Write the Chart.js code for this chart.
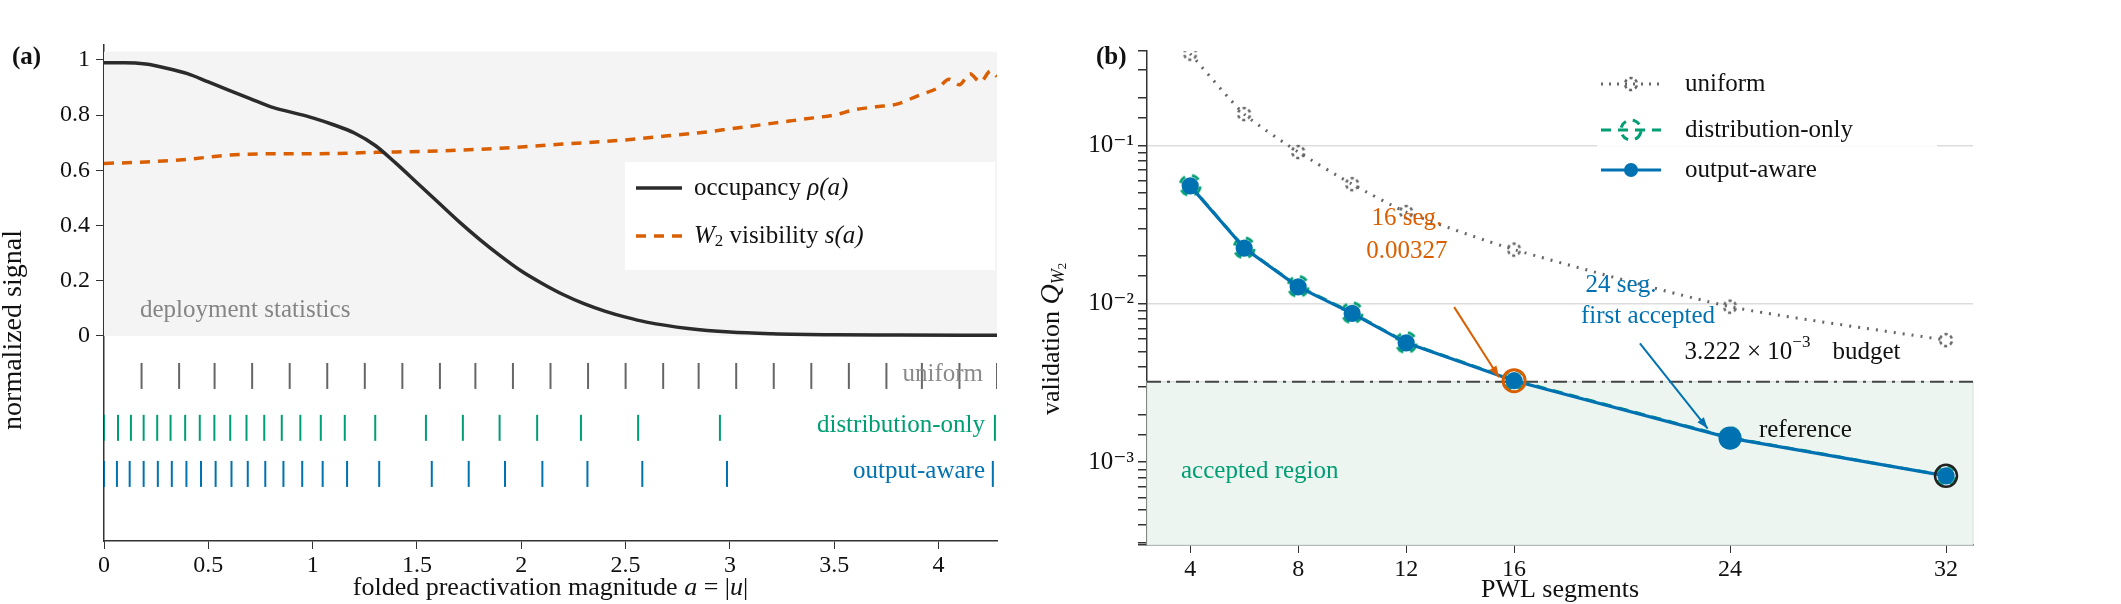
<!DOCTYPE html>
<html>
<head>
<meta charset="utf-8">
<script src="https://cdn.jsdelivr.net/npm/chart.js@4.4.1/dist/chart.umd.min.js"></script>
<style>
  body { margin: 0; background: #fff; }
  #wrap-a { position: absolute; left: 0; top: 0; width: 1060px; height: 604px; }
  #wrap-b { position: absolute; left: 1000px; top: 0; width: 1121px; height: 604px; }
</style>
</head>
<body>
<div id="wrap-a"><canvas id="chart-a"></canvas></div>
<div id="wrap-b"><canvas id="chart-b"></canvas></div>
<script>
// panel (a): deployment statistics
var occX = [0, 0.1, 0.2, 0.3, 0.4, 0.5, 0.6, 0.7, 0.8, 0.9, 1.0, 1.1, 1.2, 1.3, 1.4, 1.5, 1.6, 1.7, 1.8, 1.9, 2.0, 2.1, 2.2, 2.3, 2.4, 2.5, 2.6, 2.8, 3.0, 3.2, 3.5, 3.8, 4.28];
var occupancy = [0.99, 0.99, 0.985, 0.97, 0.95, 0.92, 0.89, 0.86, 0.83, 0.81, 0.79, 0.765, 0.735, 0.69, 0.625, 0.555, 0.485, 0.415, 0.35, 0.29, 0.235, 0.19, 0.15, 0.117, 0.09, 0.068, 0.05, 0.027, 0.014, 0.008, 0.004, 0.003, 0.002];
var visX = [0, 0.2, 0.4, 0.6, 0.8, 1.0, 1.3, 1.6, 1.9, 2.2, 2.5, 2.7, 2.9, 3.0, 3.1, 3.2, 3.3, 3.4, 3.5, 3.6, 3.7, 3.8, 3.9, 4.0, 4.05, 4.1, 4.15, 4.2, 4.25, 4.28];
var visibility = [0.625, 0.63, 0.64, 0.655, 0.66, 0.66, 0.665, 0.67, 0.68, 0.695, 0.71, 0.725, 0.74, 0.75, 0.76, 0.77, 0.78, 0.79, 0.8, 0.82, 0.83, 0.84, 0.87, 0.9, 0.93, 0.91, 0.95, 0.92, 0.96, 0.94];
var uniformKnots = [0.18, 0.36, 0.53, 0.71, 0.89, 1.07, 1.25, 1.43, 1.61, 1.78, 1.96, 2.14, 2.32, 2.50, 2.68, 2.85, 3.03, 3.21, 3.39, 3.57, 3.75, 3.92, 4.10, 4.28];
var distKnots = [0, 0.067, 0.129, 0.19, 0.255, 0.319, 0.389, 0.459, 0.529, 0.605, 0.683, 0.768, 0.852, 0.941, 1.039, 1.154, 1.30, 1.543, 1.72, 1.896, 2.076, 2.286, 2.56, 2.952, 4.27];
var outKnots = [0, 0.062, 0.123, 0.19, 0.258, 0.325, 0.395, 0.465, 0.535, 0.611, 0.689, 0.773, 0.86, 0.95, 1.048, 1.165, 1.319, 1.571, 1.748, 1.922, 2.101, 2.317, 2.58, 2.986, 4.26];
var rugRows = [-0.145, -0.333, -0.5];
var xTicksA = [0, 0.5, 1, 1.5, 2, 2.5, 3, 3.5, 4];
var yTicksA = [0, 0.2, 0.4, 0.6, 0.8, 1];

// panel (b): validation error vs segments
var segments = [4, 6, 8, 10, 12, 16, 24, 32];
var uniformQ = [0.38, 0.158, 0.091, 0.057, 0.038, 0.022, 0.0096, 0.0059];
var distOnlyQ = [0.056, 0.0226, 0.0129, 0.0088, 0.0057, 0.0033, 0.00143, 0.00082];
var outputAwareQ = [0.0556, 0.0225, 0.0128, 0.0087, 0.00567, 0.00327, 0.00142, 0.00082];
var budget = 3.222e-3;
var xTicksB = [4, 8, 12, 16, 24, 32];

var SERIF = '"Liberation Serif", "DejaVu Serif", serif';
var BLACK = '#2b2b2b', ORANGE = '#d95f02', GREEN = '#009e73', BLUE = '#0072b2', GRAY = '#666666';

function pts(xs, ys) {
    return xs.map(function (x, i) { return { x: x, y: ys[i] }; });
}
function rug(xs, y) {
    return xs.map(function (x) { return { x: x, y: y }; });
}
function ring(color, r, dash, w) {
    var c = document.createElement('canvas');
    c.width = c.height = 2 * r + 8;
    var g = c.getContext('2d');
    g.strokeStyle = color;
    g.lineWidth = w;
    g.setLineDash(dash);
    g.beginPath();
    g.arc(r + 4, r + 4, r, 0.35, 0.35 + 2 * Math.PI);
    g.stroke();
    return c;
}
// draws a run of [text, font, color, dy] pieces, left aligned, starting at x,y
function runs(ctx, x, y, parts) {
    ctx.textAlign = 'left';
    parts.forEach(function (p) {
        ctx.font = p[1];
        ctx.fillStyle = p[2];
        ctx.fillText(p[0], x, y + (p[3] || 0));
        x += ctx.measureText(p[0]).width;
    });
    return x;
}
function runsWidth(ctx, parts) {
    var w = 0;
    parts.forEach(function (p) { ctx.font = p[1]; w += ctx.measureText(p[0]).width; });
    return w;
}
function arrow(ctx, x1, y1, x2, y2, color) {
    ctx.save();
    ctx.strokeStyle = color;
    ctx.fillStyle = color;
    ctx.lineWidth = 2;
    ctx.beginPath();
    ctx.moveTo(x1, y1);
    ctx.lineTo(x2, y2);
    ctx.stroke();
    var ang = Math.atan2(y2 - y1, x2 - x1);
    ctx.beginPath();
    ctx.moveTo(x2, y2);
    ctx.lineTo(x2 - 12 * Math.cos(ang - 0.35), y2 - 12 * Math.sin(ang - 0.35));
    ctx.lineTo(x2 - 12 * Math.cos(ang + 0.35), y2 - 12 * Math.sin(ang + 0.35));
    ctx.closePath();
    ctx.fill();
    ctx.restore();
}

var tickLine = function (color, xs, y) {
    return {
        type: 'scatter', data: rug(xs, y), pointStyle: 'line', rotation: 90, pointRadius: 13,
        borderColor: color, borderWidth: 2, showLine: false
    };
};

var panelA = {
    id: 'panelA',
    beforeDatasetsDraw: function (chart) {
        var ctx = chart.ctx, a = chart.chartArea, y = chart.scales.y;
        ctx.save();
        ctx.fillStyle = '#f4f4f4';
        var top = y.getPixelForValue(1.03), bot = y.getPixelForValue(0);
        ctx.fillRect(a.left, top, a.right - a.left, bot - top);
        ctx.font = '25px ' + SERIF;
        ctx.fillStyle = '#858585';
        ctx.textBaseline = 'alphabetic';
        ctx.fillText('deployment statistics', a.left + 36, bot - 19);
        ctx.restore();
    },
    afterDatasetsDraw: function (chart) {
        var ctx = chart.ctx, a = chart.chartArea, y = chart.scales.y;
        ctx.save();
        // legend
        ctx.fillStyle = '#ffffff';
        ctx.fillRect(625, 162, 370, 108);
        ctx.lineWidth = 3.5;
        ctx.strokeStyle = BLACK;
        ctx.beginPath(); ctx.moveTo(636, 188); ctx.lineTo(682, 188); ctx.stroke();
        ctx.strokeStyle = ORANGE;
        ctx.setLineDash([10, 8]);
        ctx.beginPath(); ctx.moveTo(636, 236); ctx.lineTo(682, 236); ctx.stroke();
        ctx.setLineDash([]);
        ctx.textBaseline = 'middle';
        runs(ctx, 694, 188, [['occupancy ', '25px ' + SERIF, '#111'], ['ρ(a)', 'italic 25px ' + SERIF, '#111']]);
        runs(ctx, 694, 236, [['W', 'italic 25px ' + SERIF, '#111'], ['2', '17px ' + SERIF, '#111', 6],
            [' visibility ', '25px ' + SERIF, '#111'], ['s(a)', 'italic 25px ' + SERIF, '#111']]);
        // row labels
        ctx.textAlign = 'right';
        ctx.font = '25px ' + SERIF;
        ctx.fillStyle = '#8a8a8a';
        ctx.fillText('uniform', a.right - 14, y.getPixelForValue(rugRows[0]) - 2);
        ctx.fillStyle = GREEN;
        ctx.fillText('distribution-only', a.right - 12, y.getPixelForValue(rugRows[1]) - 2);
        ctx.fillStyle = BLUE;
        ctx.fillText('output-aware', a.right - 12, y.getPixelForValue(rugRows[2]) - 2);
        // axis title and panel tag
        ctx.save();
        ctx.translate(14, 330);
        ctx.rotate(-Math.PI / 2);
        ctx.textAlign = 'center';
        ctx.font = '28px ' + SERIF;
        ctx.fillStyle = '#111';
        ctx.fillText('normalized signal', 0, 0);
        ctx.restore();
        ctx.textAlign = 'left';
        ctx.fillStyle = '#111';
        ctx.font = 'bold 25px ' + SERIF;
        ctx.fillText('(a)', 12, 58);
        var title = [['folded preactivation magnitude ', '26px ' + SERIF, '#111'],
            ['a', 'italic 26px ' + SERIF, '#111'], [' = |', '26px ' + SERIF, '#111'],
            ['u', 'italic 26px ' + SERIF, '#111'], ['|', '26px ' + SERIF, '#111']];
        runs(ctx, (a.left + a.right) / 2 - runsWidth(ctx, title) / 2, 588, title);
        ctx.restore();
    }
};

new Chart(document.getElementById('chart-a'), {
    type: 'line',
    data: {
        datasets: [{
            data: pts(occX, occupancy), borderColor: BLACK, borderWidth: 3.5,
            pointRadius: 0, cubicInterpolationMode: 'monotone'
        }, {
            data: pts(visX, visibility), borderColor: ORANGE, borderWidth: 3.5,
            borderDash: [10, 8], pointRadius: 0, cubicInterpolationMode: 'monotone'
        },
        tickLine(GRAY, uniformKnots, rugRows[0]),
        tickLine(GREEN, distKnots, rugRows[1]),
        tickLine(BLUE, outKnots, rugRows[2])]
    },
    options: {
        responsive: true, maintainAspectRatio: false, animation: false,
        layout: { padding: { top: 45, right: 63, left: 0, bottom: 0 } },
        plugins: { legend: { display: false }, tooltip: { enabled: false } },
        scales: {
            x: {
                type: 'linear', min: 0, max: 4.28,
                afterBuildTicks: function (s) { s.ticks = xTicksA.map(function (v) { return { value: v }; }); },
                afterFit: function (s) { s.height = 63; },
                grid: { drawOnChartArea: false, tickLength: 8, tickColor: '#333' },
                border: { color: '#333', width: 1.5 },
                ticks: { color: '#111', font: { family: SERIF, size: 24 }, padding: 2, maxRotation: 0,
                    callback: function (v) { return String(v); } }
            },
            y: {
                type: 'linear', min: -0.743, max: 1.054,
                afterBuildTicks: function (s) { s.ticks = yTicksA.map(function (v) { return { value: v }; }); },
                afterFit: function (s) { s.width = 104; },
                grid: { drawOnChartArea: false, tickLength: 8, tickColor: '#333' },
                border: { color: '#333', width: 1.5 },
                ticks: { color: '#111', font: { family: SERIF, size: 24 }, padding: 6,
                    callback: function (v) { return String(v); } }
            }
        }
    },
    plugins: [panelA]
});

// panel (b)
var sup = { '-1': '10⁻¹', '-2': '10⁻²', '-3': '10⁻³' };

var panelB = {
    id: 'panelB',
    beforeDatasetsDraw: function (chart) {
        var ctx = chart.ctx, a = chart.chartArea, y = chart.scales.y;
        ctx.save();
        var yb = y.getPixelForValue(budget);
        ctx.fillStyle = '#edf5f1';
        ctx.fillRect(a.left, yb, a.right - a.left, a.bottom - yb);
        ctx.strokeStyle = '#d3ddd8';
        ctx.lineWidth = 1;
        ctx.strokeRect(a.left, yb, a.right - a.left, a.bottom - yb);
        ctx.strokeStyle = '#444';
        ctx.lineWidth = 2.2;
        ctx.setLineDash([14, 6, 3, 6]);
        ctx.beginPath(); ctx.moveTo(a.left, yb); ctx.lineTo(a.right, yb); ctx.stroke();
        ctx.restore();
    },
    afterDatasetsDraw: function (chart) {
        var ctx = chart.ctx, a = chart.chartArea, x = chart.scales.x, y = chart.scales.y;
        var px = function (v) { return x.getPixelForValue(v); };
        var py = function (v) { return y.getPixelForValue(v); };
        ctx.save();
        ctx.textBaseline = 'middle';
        var f = '25px ' + SERIF;
        // annotations
        ctx.textAlign = 'center';
        ctx.font = f;
        ctx.fillStyle = ORANGE;
        ctx.fillText('16 seg.', px(12.03), py(0.0347));
        ctx.fillText('0.00327', px(12.03), py(0.0213));
        arrow(ctx, px(13.78), py(0.00953), px(15.44), py(0.00344), ORANGE);
        ctx.fillStyle = BLUE;
        ctx.fillText('24 seg.', px(19.96), py(0.0130));
        ctx.fillText('first accepted', px(20.96), py(0.0083));
        arrow(ctx, px(20.66), py(0.00562), px(23.17), py(0.00163), BLUE);
        var xe = runs(ctx, px(22.31), py(0.0049), [['3.222 × 10', f, '#111'], ['−3', '17px ' + SERIF, '#111', -10]]);
        runs(ctx, xe + 22, py(0.0049), [['budget', f, '#111']]);
        runs(ctx, px(25.07), py(0.00158), [['reference', f, '#111']]);
        ctx.fillStyle = GREEN;
        ctx.font = f;
        ctx.fillText('accepted region', a.left + 34, py(0.00087));
        // legend
        ctx.fillStyle = 'rgba(255,255,255,0.9)';
        ctx.fillRect(597, 64, 340, 118);
        ctx.lineWidth = 3;
        ctx.strokeStyle = GRAY;
        ctx.setLineDash([2, 6]);
        ctx.beginPath(); ctx.moveTo(601, 84); ctx.lineTo(661, 84); ctx.stroke();
        ctx.strokeStyle = GREEN;
        ctx.setLineDash([10, 7]);
        ctx.beginPath(); ctx.moveTo(601, 130); ctx.lineTo(661, 130); ctx.stroke();
        ctx.setLineDash([]);
        ctx.strokeStyle = BLUE;
        ctx.beginPath(); ctx.moveTo(601, 170); ctx.lineTo(661, 170); ctx.stroke();
        ctx.drawImage(ringGray, 631 - ringGray.width / 2, 84 - ringGray.height / 2);
        ctx.drawImage(ringGreen, 631 - ringGreen.width / 2, 130 - ringGreen.height / 2);
        ctx.fillStyle = BLUE;
        ctx.beginPath(); ctx.arc(631, 170, 7, 0, 2 * Math.PI); ctx.fill();
        ctx.fillStyle = '#111';
        ctx.font = f;
        ctx.fillText('uniform', 685, 84);
        ctx.fillText('distribution-only', 685, 130);
        ctx.fillText('output-aware', 685, 170);
        // titles
        ctx.font = 'bold 25px ' + SERIF;
        ctx.fillText('(b)', 96, 58);
        ctx.textAlign = 'center';
        ctx.font = '26px ' + SERIF;
        ctx.fillText('PWL segments', (a.left + a.right) / 2, 590);
        ctx.save();
        ctx.translate(52, 315);
        ctx.rotate(-Math.PI / 2);
        runs(ctx, -100, 0, [['validation ', '26px ' + SERIF, '#111'], ['Q', 'italic 28px ' + SERIF, '#111'],
            ['W', 'italic 18px ' + SERIF, '#111', 7], ['2', '13px ' + SERIF, '#111', 11]]);
        ctx.restore();
        ctx.restore();
    }
};

var ringGreen = ring(GREEN, 10, [8, 7], 3);
var ringGray = ring(GRAY, 6, [3, 3], 2.5);

new Chart(document.getElementById('chart-b'), {
    type: 'line',
    data: {
        datasets: [{
            data: pts(segments, uniformQ), borderColor: GRAY, borderWidth: 3, order: 3,
            borderDash: [2, 7], pointStyle: ringGray, pointRadius: 6, tension: 0.2
        }, {
            data: pts(segments, distOnlyQ), borderColor: GREEN, borderWidth: 3, order: 2,
            borderDash: [10, 7], pointStyle: ringGreen, pointRadius: 10
        }, {
            data: pts(segments, outputAwareQ), borderColor: BLUE, borderWidth: 3.2, order: 1,
            backgroundColor: BLUE, pointBackgroundColor: BLUE, pointBorderColor: BLUE,
            pointRadius: segments.map(function (s) { return s === 24 ? 10 : 7; })
        }, {
            type: 'scatter', data: [{ x: segments[5], y: outputAwareQ[5] }], order: 0,
            pointRadius: 11, borderColor: ORANGE, borderWidth: 3, backgroundColor: 'rgba(0,0,0,0)'
        }, {
            type: 'scatter', data: [{ x: segments[7], y: outputAwareQ[7] }], order: 0,
            pointRadius: 11, borderColor: '#222', borderWidth: 2.5, backgroundColor: 'rgba(0,0,0,0)'
        }]
    },
    options: {
        responsive: true, maintainAspectRatio: false, animation: false,
        layout: { padding: { top: 51, right: 148, left: 0, bottom: 0 } },
        plugins: { legend: { display: false }, tooltip: { enabled: false } },
        scales: {
            x: {
                type: 'linear', min: 2.4, max: 33,
                afterBuildTicks: function (s) { s.ticks = xTicksB.map(function (v) { return { value: v }; }); },
                afterFit: function (s) { s.height = 59; },
                grid: { drawOnChartArea: false, tickLength: 8, tickColor: '#333' },
                border: { color: '#333', width: 1.5 },
                ticks: { color: '#111', font: { family: SERIF, size: 24 }, padding: 2, maxRotation: 0 }
            },
            y: {
                type: 'logarithmic', min: 3.1e-4, max: 0.395,
                afterFit: function (s) { s.width = 147; },
                grid: {
                    color: function (c) {
                        var l = Math.log10(c.tick.value);
                        return Math.abs(l - Math.round(l)) < 1e-6 ? '#dddddd' : 'rgba(0,0,0,0)';
                    },
                    tickLength: 9, tickColor: '#333', lineWidth: 1.5
                },
                border: { color: '#333', width: 1.5 },
                ticks: {
                    autoSkip: false, color: '#111', font: { family: SERIF, size: 25 }, padding: 4,
                    callback: function (v) {
                        var l = Math.log10(v);
                        return Math.abs(l - Math.round(l)) < 1e-6 ? (sup[String(Math.round(l))] || '') : '';
                    }
                }
            }
        }
    },
    plugins: [panelB]
});
</script>
</body>
</html>
